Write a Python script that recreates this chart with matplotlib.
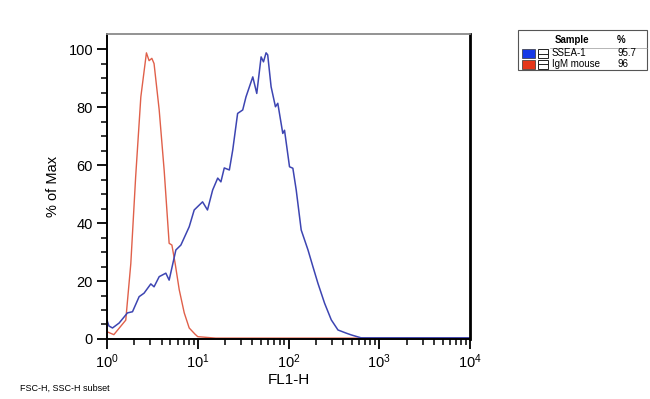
import matplotlib.pyplot as plt
from matplotlib.patches import Rectangle
from matplotlib.lines import Line2D
import numpy as np

plt.rcParams['font.family'] = ['Liberation Sans', 'DejaVu Sans']

# FL1-H intensity and % of max
red_x = [1.0, 1.19, 1.61, 1.83, 2.07, 2.36, 2.72, 2.91, 3.12, 3.30, 3.76, 4.27,
         4.84, 5.19, 5.64, 6.25, 7.10, 8.05, 9.31, 10.0, 15.8, 10000]
red_y = [2.5, 1.5, 6.5, 26, 56, 83.5, 98.7, 96, 96.8, 95, 79, 58,
         33, 32.4, 26, 17, 9, 3.8, 1.7, 0.8, 0.3, 0.3]

blue_x = [1.0, 1.05, 1.15, 1.36, 1.68, 1.91, 2.26, 2.56, 3.04, 3.30, 3.76, 4.45,
          4.84, 5.74, 6.52, 8.05, 9.14, 11.3, 12.8, 14.6, 16.6, 18.0, 19.6, 22.3,
          24.3, 27.5, 31.3, 34.0, 37.1, 40.4, 44.7, 49.9, 53.0, 56.6, 59.0, 64.3,
          71.8, 76.2, 86.5, 90.4, 102.6, 111.7, 121.6, 138, 164, 186, 211, 250,
          296, 351, 434, 492, 631, 10000]
blue_y = [6.5, 4.5, 3.8, 5.5, 9, 9.4, 14.6, 15.8, 19, 18, 21.5, 22.7,
          20.3, 30.7, 32.4, 38.7, 44.5, 47.3, 44.5, 51.4, 55.5, 54.2, 59, 58.3,
          65.2, 77.8, 79, 83.5, 87, 90.4, 84.7, 97.3, 95.6, 98.7, 98, 87,
          80.1, 81.3, 70.9, 72, 59.4, 58.9, 51.4, 37.6, 30.7, 24.9, 19.2, 12.3,
          6.6, 3.1, 2.0, 1.4, 0.4, 0.4]

samples = ["SSEA-1", "IgM mouse"]
percents = ["95.7", "96"]
swatch_colors = ["#1638e6", "#e5361a"]

fig = plt.figure(figsize=(6.5, 3.99), dpi=100)
ax = fig.add_axes([0.1646, 0.1504, 0.5585, 0.7644])

ax.plot(red_x, red_y, color="#e0604a", lw=1.0)
ax.plot(blue_x, blue_y, color="#3d45b2", lw=1.1)

ax.set_xscale("log")
ax.set_xlim(1, 10000)
ax.set_ylim(0, 105.2)
ax.set_yticks([0, 20, 40, 60, 80, 100])
ax.set_yticks(np.arange(0, 101, 5), minor=True)
ax.xaxis.set_minor_locator(plt.matplotlib.ticker.LogLocator(base=10, subs=np.arange(2, 10)))

ax.tick_params(axis="both", which="major", direction="out", length=7, width=1.3,
               labelsize=10.5, pad=3)
ax.tick_params(axis="both", which="minor", direction="out", length=4, width=1.1)

ax.spines["top"].set_color("#8a8a8a")
ax.spines["top"].set_linewidth(1.3)
ax.spines["right"].set_linewidth(2.0)
ax.spines["left"].set_linewidth(1.4)
ax.spines["bottom"].set_linewidth(1.4)

ax.set_ylabel("% of Max", fontsize=10.5, labelpad=6)
ax.set_xlabel("FL1-H", fontsize=11, labelpad=1)

fig.text(20 / 650, 1 - 388 / 399, "FSC-H, SSC-H subset", fontsize=6.5, va="center")

# sample table in the upper right
def fx(px):
    return px / 650

def fy(py):
    return 1 - py / 399

fig.add_artist(Rectangle((fx(518), fy(70)), fx(647) - fx(518), fy(30) - fy(70),
                         transform=fig.transFigure, fill=False, lw=0.8, ec="#555555"))
fig.add_artist(Line2D([fx(550), fx(647)], [fy(47.5), fy(47.5)],
                      transform=fig.transFigure, lw=0.5, color="#999999"))
fig.text(fx(555), fy(40), "Sample", fontsize=7, fontweight="bold", va="center")
fig.text(fx(617), fy(40), "%", fontsize=7, fontweight="bold", va="center")

row_y = [53.5, 64]
for i, name in enumerate(samples):
    cy = row_y[i]
    fig.add_artist(Rectangle((fx(522), fy(cy + 4.5)), fx(13), fy(0) - fy(9),
                             transform=fig.transFigure, fc=swatch_colors[i],
                             ec="#333333", lw=0.5))
    fig.add_artist(Rectangle((fx(537.5), fy(cy + 4.5)), fx(10.5), fy(0) - fy(9),
                             transform=fig.transFigure, fill=False, ec="#222222", lw=0.7))
    fig.add_artist(Line2D([fx(537.5), fx(548)], [fy(cy), fy(cy)],
                          transform=fig.transFigure, lw=0.7, color="#222222"))
    fig.text(fx(551.5), fy(cy), name, fontsize=7, va="center")
    fig.text(fx(617), fy(cy), percents[i], fontsize=7, va="center")

fig.savefig("out.png", dpi=100)
